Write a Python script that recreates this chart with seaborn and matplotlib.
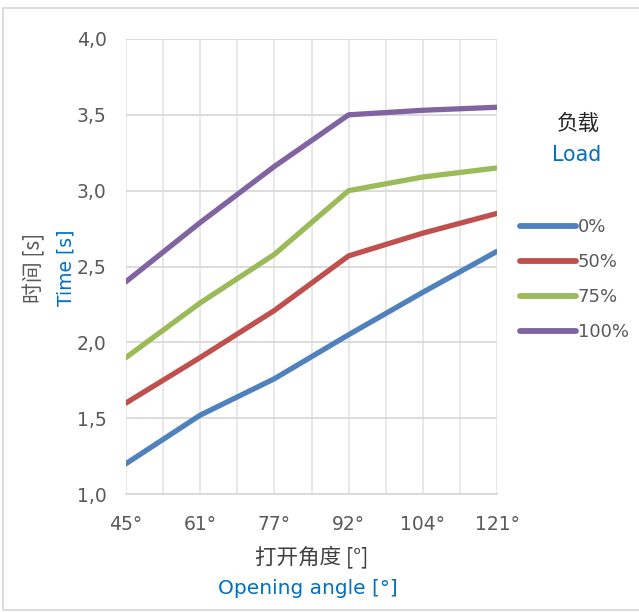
import matplotlib
matplotlib.use("Agg")
import matplotlib.pyplot as plt
from matplotlib.patches import Rectangle
from matplotlib.ticker import FuncFormatter, MultipleLocator
import seaborn as sns
import pandas as pd

# Opening angles (category axis) and response times per load level
angles = ["45°", "61°", "77°", "92°", "104°", "121°"]
loads = ["0%", "50%", "75%", "100%"]
time_0 = [1.20, 1.52, 1.76, 2.05, 2.33, 2.60]
time_50 = [1.60, 1.90, 2.21, 2.57, 2.72, 2.85]
time_75 = [1.90, 2.26, 2.58, 3.00, 3.09, 3.15]
time_100 = [2.40, 2.79, 3.16, 3.50, 3.53, 3.55]
yticks = [1.0, 1.5, 2.0, 2.5, 3.0, 3.5, 4.0]

colors = ["#4F81BD", "#C0504D", "#9BBB59", "#8064A2"]

rows = []
for load, series in zip(loads, [time_0, time_50, time_75, time_100]):
    for i, (ang, t) in enumerate(zip(angles, series)):
        rows.append({"pos": i, "angle": ang, "time": t, "load": load})
df = pd.DataFrame(rows)

sns.set_theme(style="white")
FONT = ["DejaVu Sans", "Noto Sans CJK SC"]
CJK = ["Noto Sans CJK SC", "DejaVu Sans"]
plt.rcParams["font.family"] = FONT

fig = plt.figure(figsize=(6.39, 6.12), dpi=100)
ax = fig.add_axes([126 / 639, 1 - 494 / 612, (497 - 126) / 639, (494 - 39) / 612])

sns.lineplot(data=df, x="pos", y="time", hue="load", hue_order=loads,
             palette=colors, linewidth=3.8, ax=ax, legend=True,
             solid_capstyle="round", solid_joinstyle="round")

ax.set_xlim(0, len(angles) - 1)
ax.set_ylim(yticks[0], yticks[-1])
ax.set_xticks(range(len(angles)))
ax.set_xticklabels(angles)
ax.xaxis.set_minor_locator(MultipleLocator(0.5))
ax.set_yticks(yticks)
ax.yaxis.set_major_formatter(FuncFormatter(lambda v, _: f"{v:.1f}".replace(".", ",")))

ax.grid(True, which="major", axis="y", color="#D9D9D9", linewidth=1.3)
ax.grid(True, which="both", axis="x", color="#E6E6E6", linewidth=1.3)
ax.set_axisbelow(True)
for side in ["top", "right", "left"]:
    ax.spines[side].set_visible(False)
ax.spines["bottom"].set_color("#D9D9D9")
ax.spines["bottom"].set_linewidth(1.3)

ax.tick_params(axis="both", which="both", length=0, labelsize=13.5, labelcolor="#595959")
ax.tick_params(axis="x", pad=15)
ax.tick_params(axis="y", pad=14)
ax.set_xlabel("")
ax.set_ylabel("")

# Bilingual axis titles
fig.text(312 / 639, 1 - 557 / 612, "打开角度 [°]", ha="center", va="center",
         fontsize=15.5, color="#404040", family=CJK)
fig.text(308 / 639, 1 - 588 / 612, "Opening angle [°]", ha="center", va="center",
         fontsize=14.5, color="#0070C0", family=FONT)
fig.text(34 / 639, 1 - 268 / 612, "时间 [s]", ha="center", va="center", rotation=90,
         fontsize=15, color="#595959", family=CJK)
fig.text(66 / 639, 1 - 268 / 612, "Time [s]", ha="center", va="center", rotation=90,
         fontsize=13.5, color="#0070C0", family=FONT)

# Legend with bilingual title
fig.text(578 / 639, 1 - 124 / 612, "负载", ha="center", va="center",
         fontsize=15.5, color="#262626", family=CJK)
fig.text(577 / 639, 1 - 155 / 612, "Load", ha="center", va="center",
         fontsize=14.8, color="#0070C0", family=FONT)
handles, labels = ax.get_legend_handles_labels()
for h in handles:
    h.set_solid_capstyle("round")
    h.set_linewidth(4.2)
if ax.get_legend():
    ax.get_legend().remove()
leg = fig.legend(handles, labels, loc="upper left",
                 bbox_to_anchor=(520 / 639, 1 - 218 / 612), frameon=False,
                 fontsize=13, handlelength=3.1, handletextpad=0.1,
                 labelspacing=0.95, borderaxespad=0, borderpad=0)
for t in leg.get_texts():
    t.set_color("#595959")

# Light chart-area border
fig.patches.append(Rectangle((3 / 639, 2 / 612), 1.0, 1 - 10 / 612,
                             transform=fig.transFigure, fill=False,
                             edgecolor="#D9D9D9", linewidth=1.3))

fig.savefig("out.png", dpi=100, facecolor="white")
